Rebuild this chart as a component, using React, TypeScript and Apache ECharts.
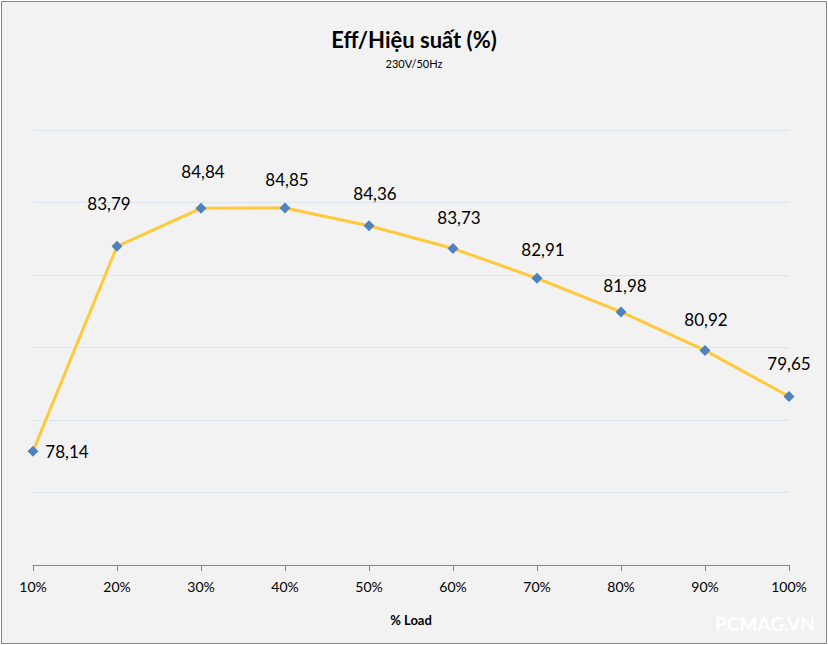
import React, { useEffect, useRef } from "react";
import * as echarts from "echarts";

const categories = ["10%", "20%", "30%", "40%", "50%", "60%", "70%", "80%", "90%", "100%"];
const efficiency = [78.14, 83.79, 84.84, 84.85, 84.36, 83.73, 82.91, 81.98, 80.92, 79.65];
const yMin = 75;
const yMax = 87;
const yStep = 2;

// label placement (styling only): offsets from the marker centre
const labelOffsets: [number, number][] = [
  [34, 0],
  [-8, -43],
  [2, -37],
  [2, -28],
  [6, -32],
  [6, -31],
  [6, -29],
  [4, -26],
  [1, -31],
  [0, -33],
];

const FONT = "Lato, 'Open Sans', sans-serif";

export default function App() {
  const ref = useRef<HTMLDivElement>(null);

  useEffect(() => {
    document.body.style.margin = "0";
    if (!ref.current) return;
    const chart = echarts.init(ref.current, undefined, { renderer: "svg" });
    const option: any = {
      animation: false,
      backgroundColor: "#FFFFFF",
      textStyle: { fontFamily: FONT },
      title: {
        left: "center",
        top: 22,
        text: "Eff/Hiệu suất (%)",
        textStyle: { fontFamily: FONT, fontSize: 22, fontWeight: "bold", color: "#000", lineHeight: 25 },
        subtext: "230V/50Hz",
        subtextStyle: { fontFamily: FONT, fontSize: 11, color: "#000", lineHeight: 13 },
        itemGap: 5,
      },
      graphic: [
        {
          type: "rect",
          z: -10,
          silent: true,
          shape: { x: 1.5, y: 1.5, width: 825, height: 642 },
          style: { fill: "#F2F2F2", stroke: "#868686", lineWidth: 1 },
        },
        {
          type: "text",
          z: 10,
          silent: true,
          x: 765,
          y: 623,
          style: {
            text: "PCMAG.VN",
            fill: "#FFFFFF",
            font: `bold 19px ${FONT}`,
            textAlign: "center",
            textVerticalAlign: "middle",
          },
        },
      ],
      grid: { left: 33, right: 39, top: 130, bottom: 80, containLabel: false },
      xAxis: {
        type: "category",
        data: categories,
        boundaryGap: false,
        axisLine: { lineStyle: { color: "#868686", width: 1 } },
        axisTick: { show: true, length: 6, lineStyle: { color: "#868686" } },
        axisLabel: { fontFamily: FONT, fontSize: 14, color: "#000", margin: 14 },
        name: "% Load",
        nameLocation: "middle",
        nameGap: 48,
        nameTextStyle: { fontFamily: FONT, fontSize: 13, fontWeight: "bold", color: "#000" },
        splitLine: { show: false },
      },
      yAxis: {
        type: "value",
        min: yMin,
        max: yMax,
        interval: yStep,
        axisLine: { show: false },
        axisTick: { show: false },
        axisLabel: { show: false },
        splitLine: { show: true, lineStyle: { color: "#DCE4EF", width: 1 } },
      },
      series: [
        {
          type: "line",
          data: efficiency.map((v, i) => ({
            value: v,
            label: { offset: labelOffsets[i] },
          })),
          symbol: "diamond",
          symbolSize: 11,
          itemStyle: { color: "#4F81BD" },
          lineStyle: { color: "#FFC93C", width: 3 },
          label: {
            show: true,
            position: "inside",
            fontFamily: FONT,
            fontSize: 17,
            color: "#000",
            formatter: (p: any) => Number(p.value).toFixed(2).replace(".", ","),
          },
        },
      ],
    };
    chart.setOption(option);
    return () => chart.dispose();
  }, []);

  return <div ref={ref} style={{ width: 828, height: 645 }} />;
}
